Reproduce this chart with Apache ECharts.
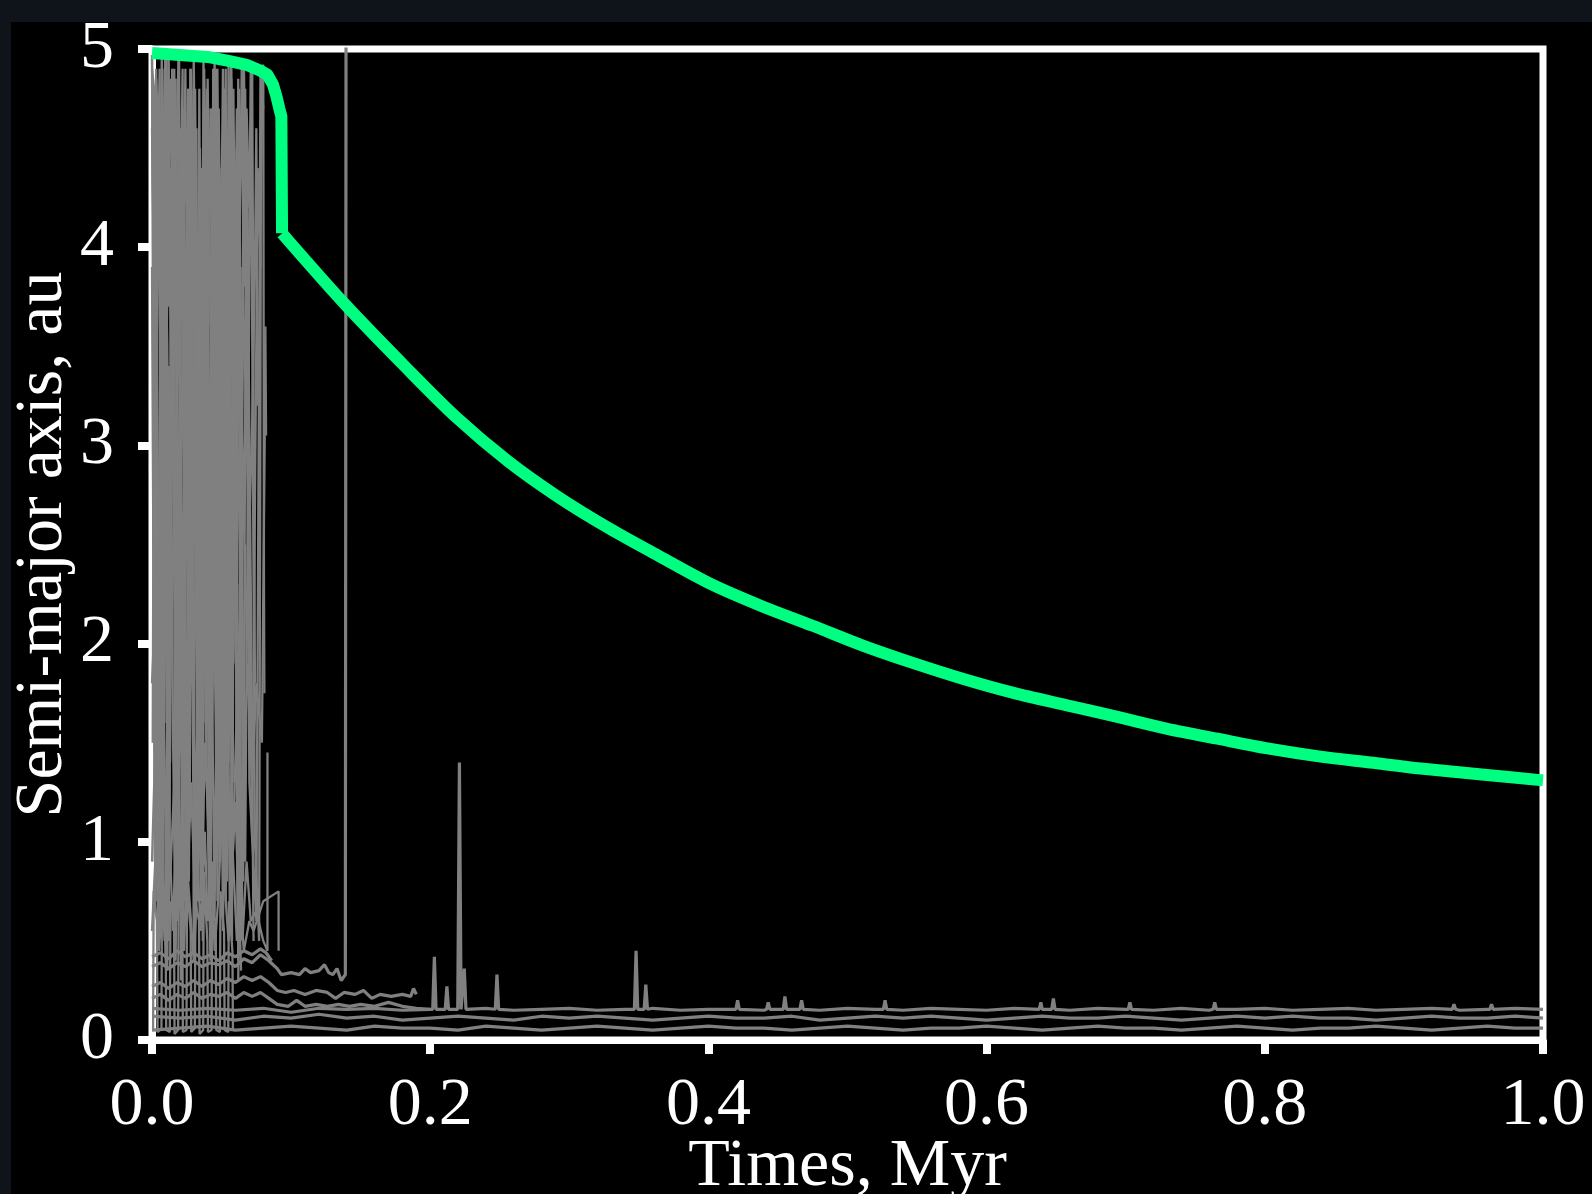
<!DOCTYPE html>
<html>
<head>
<meta charset="utf-8">
<title>Semi-major axis vs time</title>
<script src="https://cdn.jsdelivr.net/npm/echarts@6/dist/echarts.min.js"></script>
<style>
html, body { margin: 0; padding: 0; width: 1592px; height: 1194px; overflow: hidden; background: #0e1419; }
#container { position: absolute; left: 11px; top: 22px; width: 1581px; height: 1172px; background: #000; }
</style>
</head>
<body>
<div id="container"></div>
<script>
var FONT = "'Liberation Serif', 'Times New Roman', serif";

// ---- data (time in Myr, semi-major axis in au) ----

// the surviving planet (green)
var planetHead = [[0, 4.98], [0.02, 4.97], [0.04, 4.96], [0.055, 4.94], [0.068, 4.92], [0.078, 4.89],
    [0.083, 4.87], [0.087, 4.82], [0.0895, 4.76], [0.0915, 4.70], [0.093, 4.66], [0.0935, 4.07]];
var planetTail = [[0.0935, 4.07], [0.139, 3.71], [0.183, 3.39], [0.219, 3.14], [0.256, 2.92], [0.292, 2.74],
    [0.329, 2.58], [0.365, 2.44], [0.402, 2.30], [0.438, 2.19], [0.475, 2.09], [0.511, 1.99], [0.548, 1.90],
    [0.584, 1.82], [0.620, 1.75], [0.657, 1.69], [0.694, 1.63], [0.730, 1.57], [0.766, 1.52], [0.803, 1.47],
    [0.840, 1.43], [0.876, 1.40], [0.912, 1.37], [0.956, 1.34], [1.0, 1.31]];

// scattered bodies in the first ~0.09 Myr (grey)
var chaos1 = [[0.000, 4.90], [0.003, 4.70], [0.004, 1.20], [0.006, 3.80], [0.007, 4.95], [0.010, 2.40], [0.012, 0.50],
    [0.014, 3.30], [0.017, 4.60], [0.019, 1.80], [0.021, 0.30], [0.024, 2.90], [0.026, 4.80], [0.029, 3.60],
    [0.031, 0.90], [0.034, 2.20], [0.036, 4.40], [0.039, 1.50], [0.042, 0.40], [0.044, 3.10], [0.047, 4.90],
    [0.050, 2.60], [0.053, 0.70], [0.056, 3.90], [0.059, 4.50], [0.061, 1.10], [0.064, 0.35]];
var chaos2 = [[0.000, 4.95], [0.002, 3.10], [0.005, 4.40], [0.008, 0.80], [0.009, 2.70], [0.013, 4.85], [0.015, 4.10],
    [0.018, 0.60], [0.020, 1.90], [0.023, 4.30], [0.025, 3.20], [0.028, 4.90], [0.030, 0.45], [0.033, 1.70],
    [0.035, 3.60], [0.038, 4.70], [0.040, 2.10], [0.043, 1.30], [0.046, 4.20], [0.048, 3.40], [0.051, 0.55],
    [0.054, 2.50], [0.057, 4.85], [0.060, 3.00], [0.062, 0.40], [0.066, 1.60], [0.068, 4.60], [0.071, 2.30],
    [0.073, 0.50]];
var chaos3 = [[0.001, 4.80], [0.004, 2.20], [0.006, 0.60], [0.009, 4.30], [0.011, 3.50], [0.013, 1.40], [0.016, 4.90],
    [0.018, 2.80], [0.022, 1.00], [0.024, 3.70], [0.027, 1.90], [0.029, 4.50], [0.032, 2.70], [0.035, 0.70],
    [0.037, 4.95], [0.041, 3.20], [0.043, 1.90], [0.045, 0.60], [0.049, 4.10], [0.052, 4.80], [0.055, 1.40],
    [0.058, 2.90], [0.061, 4.70], [0.063, 3.30], [0.067, 0.90], [0.070, 3.80], [0.072, 4.90], [0.074, 1.80]];
var chaos4 = [[0.000, 3.90], [0.002, 0.90], [0.005, 2.60], [0.007, 4.50], [0.010, 3.90], [0.012, 4.95], [0.015, 1.60],
    [0.017, 0.40], [0.020, 3.40], [0.022, 4.70], [0.025, 1.20], [0.027, 2.40], [0.030, 4.60], [0.032, 3.90],
    [0.034, 1.00], [0.038, 2.50], [0.040, 4.85], [0.042, 3.70], [0.044, 2.60], [0.047, 0.90], [0.050, 3.50],
    [0.052, 1.60], [0.054, 4.40], [0.057, 4.95], [0.060, 2.00], [0.063, 1.20], [0.065, 3.90], [0.069, 2.80],
    [0.072, 1.00], [0.076, 4.40], [0.078, 3.90]];
var chaos5 = [[0.001, 2.50], [0.003, 4.85], [0.006, 4.20], [0.008, 2.00], [0.011, 0.35], [0.013, 2.90], [0.016, 3.80],
    [0.019, 4.95], [0.021, 2.50], [0.023, 0.70], [0.026, 1.50], [0.028, 3.90], [0.031, 4.80], [0.033, 2.90],
    [0.036, 1.10], [0.039, 3.60], [0.041, 0.70], [0.044, 2.00], [0.046, 3.00], [0.048, 4.60], [0.051, 1.80],
    [0.053, 3.20], [0.056, 0.60], [0.058, 1.90], [0.062, 4.30], [0.064, 2.50], [0.067, 4.80], [0.070, 1.30],
    [0.075, 0.60], [0.078, 4.90], [0.080, 4.70]];
var chaos6 = [[0.000, 1.80], [0.003, 2.30], [0.005, 1.70], [0.007, 3.00], [0.010, 2.60], [0.012, 3.40], [0.014, 2.10],
    [0.017, 2.90], [0.019, 3.70], [0.022, 2.40], [0.024, 1.30], [0.027, 2.00], [0.030, 1.70], [0.032, 2.60],
    [0.035, 2.20], [0.037, 3.10], [0.040, 1.60], [0.043, 2.90], [0.046, 2.10], [0.049, 1.40], [0.052, 2.30],
    [0.055, 1.20], [0.058, 0.90], [0.061, 1.70], [0.064, 2.30], [0.066, 1.40], [0.069, 1.90], [0.072, 1.30],
    [0.075, 1.80], [0.079, 1.50], [0.081, 3.00], [0.0815, 3.60], [0.082, 3.05]];
var chaos7 = [[0.000, 0.90], [0.002, 1.40], [0.004, 0.70], [0.006, 1.10], [0.009, 0.50], [0.011, 1.60], [0.013, 0.80],
    [0.016, 1.30], [0.018, 0.60], [0.021, 1.00], [0.023, 1.80], [0.026, 0.90], [0.028, 1.30], [0.031, 0.70],
    [0.033, 1.20], [0.036, 0.80], [0.038, 1.50], [0.041, 1.00], [0.044, 0.60], [0.046, 1.20], [0.049, 1.80],
    [0.052, 1.10], [0.054, 1.40], [0.057, 0.80], [0.060, 1.20], [0.062, 0.70], [0.065, 0.50], [0.068, 0.90],
    [0.071, 0.60], [0.075, 0.65], [0.080, 0.50], [0.083, 0.45], [0.083, 1.45]];
var chaos8 = [[0.000, 0.55], [0.003, 1.00], [0.005, 0.45], [0.008, 0.80], [0.010, 0.40], [0.013, 0.95], [0.015, 0.55],
    [0.018, 1.20], [0.020, 0.70], [0.023, 0.45], [0.025, 0.90], [0.028, 0.60], [0.030, 0.40], [0.033, 0.85],
    [0.035, 0.55], [0.038, 1.05], [0.040, 0.60], [0.043, 0.90], [0.045, 0.45], [0.048, 0.75], [0.050, 1.15],
    [0.053, 0.70], [0.055, 0.50], [0.058, 0.95], [0.061, 0.50], [0.063, 0.75], [0.066, 0.45], [0.070, 0.60],
    [0.073, 0.55], [0.080, 0.70], [0.091, 0.75], [0.091, 0.45]];
var chaos9 = [[0.062, 0.30], [0.064, 2.00], [0.066, 4.95], [0.069, 3.40], [0.071, 4.90], [0.074, 1.00],
    [0.077, 0.50], [0.0785, 4.90], [0.080, 4.92], [0.0805, 2.30], [0.0808, 1.75]];
var chaos10 = [[0.000, 4.97], [0.0015, 2.1], [0.003, 4.6], [0.0045, 0.8], [0.006, 3.4], [0.0075, 4.9], [0.009, 1.6],
    [0.0105, 3.9], [0.012, 0.6], [0.0135, 2.8], [0.015, 4.7], [0.0165, 1.3], [0.018, 3.6], [0.0195, 4.95],
    [0.021, 2.2], [0.0225, 0.5], [0.024, 3.1], [0.0255, 4.4], [0.027, 1.1], [0.0285, 2.6], [0.030, 4.8],
    [0.0315, 3.3], [0.033, 0.7], [0.0345, 4.1], [0.036, 2.4], [0.0375, 4.9], [0.039, 1.7], [0.0405, 3.8],
    [0.042, 0.9], [0.0435, 4.5], [0.045, 2.9], [0.0465, 1.2], [0.048, 4.7], [0.0495, 3.5], [0.051, 1.5],
    [0.0525, 4.3], [0.054, 0.8], [0.0555, 2.7], [0.057, 4.6], [0.0585, 1.9], [0.060, 3.7], [0.0615, 0.6],
    [0.063, 2.3]];
var chaos11 = [[0.0005, 1.5], [0.002, 4.8], [0.0035, 3.0], [0.005, 0.5], [0.0065, 2.4], [0.008, 4.4], [0.0095, 4.95],
    [0.011, 2.0], [0.0125, 0.9], [0.014, 4.2], [0.0155, 3.1], [0.017, 4.85], [0.0185, 1.4], [0.020, 2.9],
    [0.0215, 4.5], [0.023, 3.8], [0.0245, 0.6], [0.026, 2.1], [0.0275, 4.9], [0.029, 1.8], [0.0305, 3.5],
    [0.032, 4.6], [0.0335, 1.0], [0.035, 2.7], [0.0365, 0.5], [0.038, 3.9], [0.0395, 4.8], [0.041, 2.5],
    [0.0425, 1.4], [0.044, 4.9], [0.0455, 3.6], [0.047, 0.7], [0.0485, 2.2], [0.050, 4.4], [0.0515, 2.9],
    [0.053, 4.9], [0.0545, 1.1], [0.056, 3.3], [0.0575, 0.5], [0.059, 4.5], [0.0605, 2.6], [0.062, 4.85],
    [0.0635, 1.5], [0.065, 0.6]];
var chaos12 = [[0.001, 3.6], [0.0025, 0.7], [0.004, 4.3], [0.0055, 4.9], [0.007, 1.9], [0.0085, 3.2], [0.010, 4.7],
    [0.0115, 0.9], [0.013, 2.5], [0.0145, 4.9], [0.016, 3.4], [0.0175, 1.0], [0.019, 2.3], [0.0205, 4.1],
    [0.022, 4.9], [0.0235, 1.6], [0.025, 3.9], [0.0265, 0.8], [0.028, 2.2], [0.0295, 4.6], [0.031, 3.9],
    [0.0325, 1.3], [0.034, 4.8], [0.0355, 2.8], [0.037, 1.6], [0.0385, 4.3], [0.040, 3.2], [0.0415, 0.6],
    [0.043, 4.7], [0.0445, 1.9], [0.046, 4.9], [0.0475, 2.6], [0.049, 0.9], [0.0505, 3.7], [0.052, 4.6],
    [0.0535, 2.1], [0.055, 4.95], [0.0565, 3.4], [0.058, 1.3], [0.0595, 4.2], [0.061, 2.0], [0.0625, 4.8],
    [0.064, 3.1], [0.0655, 0.8], [0.067, 2.5]];
var chaos13 = [[0.028, 2.6], [0.030, 3.3], [0.0315, 2.2], [0.033, 3.0], [0.035, 1.9], [0.0365, 2.8], [0.038, 3.5],
    [0.0395, 2.4], [0.041, 3.1], [0.043, 2.0], [0.0445, 2.7], [0.046, 3.4], [0.048, 2.3], [0.0495, 2.9],
    [0.051, 1.7], [0.053, 2.5], [0.0545, 3.2], [0.056, 2.1], [0.058, 2.8], [0.0595, 3.6], [0.061, 2.5],
    [0.063, 3.0], [0.0645, 2.2], [0.066, 2.9], [0.068, 3.4], [0.070, 2.6], [0.072, 3.1], [0.074, 3.9],
    [0.075, 4.6], [0.076, 3.2]];
var chaos15 = [[0, 4.6], [0.0015, 3.8], [0.003, 4.9], [0.0045, 4.2], [0.006, 3.5], [0.0075, 4.7], [0.009, 3.9],
    [0.0105, 4.95], [0.012, 3.7], [0.0135, 4.4], [0.015, 3.2], [0.0165, 4.8], [0.018, 4.1], [0.0195, 3.5],
    [0.021, 4.6], [0.0225, 3.9], [0.024, 4.9], [0.0255, 3.4], [0.027, 4.3], [0.0285, 3.8], [0.030, 4.95],
    [0.0315, 4.0], [0.033, 3.3], [0.0345, 4.5], [0.036, 3.7], [0.0375, 4.85], [0.039, 4.2], [0.0405, 3.6],
    [0.042, 4.7], [0.0435, 3.9], [0.045, 4.95], [0.0465, 3.5], [0.048, 4.4], [0.0495, 3.8], [0.051, 4.9],
    [0.0525, 4.1], [0.054, 3.4], [0.0555, 4.6], [0.057, 3.9], [0.0585, 4.8], [0.060, 3.6], [0.0615, 4.5],
    [0.063, 4.0], [0.0645, 4.9], [0.066, 3.8], [0.068, 4.7], [0.070, 4.2], [0.072, 4.9]];
var chaos16 = [[0.0008, 0.05], [0.0012, 0.75], [0.0035, 0.60], [0.004, 0.04], [0.0068, 0.06], [0.0072, 0.85],
    [0.0098, 0.55], [0.0102, 0.05], [0.0128, 0.04], [0.0133, 0.70], [0.0158, 0.65], [0.0162, 0.03],
    [0.0188, 0.05], [0.0192, 0.90], [0.0218, 0.60], [0.0222, 0.04], [0.0248, 0.05], [0.0252, 0.80],
    [0.0278, 0.55], [0.0282, 0.04], [0.0308, 0.06], [0.0312, 0.70], [0.0338, 0.60], [0.0342, 0.03],
    [0.0368, 0.05], [0.0372, 0.85], [0.0398, 0.50], [0.0402, 0.04], [0.0428, 0.05], [0.0432, 0.65],
    [0.0458, 0.60], [0.0462, 0.05], [0.0488, 0.04], [0.0492, 0.75], [0.0518, 0.55], [0.0522, 0.05],
    [0.0548, 0.04], [0.0552, 0.70], [0.0578, 0.45], [0.0582, 0.05]];

// bodies that settled close in (grey, just above zero)
var inner1 = [[0, 0.42], [0.006, 0.44], [0.012, 0.41], [0.018, 0.45], [0.024, 0.42], [0.030, 0.44], [0.036, 0.41],
    [0.042, 0.43], [0.048, 0.40], [0.054, 0.44], [0.060, 0.42], [0.066, 0.45], [0.072, 0.43], [0.078, 0.46],
    [0.082, 0.44], [0.086, 0.40]];
var inner2 = [[0, 0.37], [0.006, 0.39], [0.012, 0.36], [0.018, 0.39], [0.024, 0.37], [0.030, 0.40], [0.036, 0.37],
    [0.042, 0.39], [0.048, 0.38], [0.054, 0.40], [0.060, 0.37], [0.066, 0.41], [0.072, 0.39], [0.078, 0.43],
    [0.084, 0.40], [0.090, 0.36], [0.093, 0.33], [0.100, 0.34], [0.106, 0.33], [0.110, 0.36], [0.114, 0.34],
    [0.120, 0.35], [0.124, 0.38], [0.127, 0.34], [0.130, 0.33], [0.133, 0.36], [0.136, 0.30], [0.139, 0.33],
    [0.1395, 5.2]];
var inner3 = [[0, 0.27], [0.006, 0.29], [0.012, 0.26], [0.018, 0.29], [0.024, 0.27], [0.030, 0.30], [0.036, 0.27],
    [0.042, 0.30], [0.048, 0.28], [0.054, 0.31], [0.060, 0.29], [0.066, 0.32], [0.072, 0.30], [0.078, 0.32],
    [0.084, 0.29], [0.090, 0.25], [0.096, 0.24], [0.102, 0.25], [0.110, 0.23], [0.118, 0.25], [0.126, 0.24],
    [0.132, 0.21], [0.138, 0.24], [0.146, 0.23], [0.152, 0.25], [0.158, 0.21], [0.164, 0.23], [0.172, 0.22],
    [0.180, 0.23], [0.186, 0.22], [0.188, 0.26], [0.190, 0.23]];
var inner4 = [[0, 0.21], [0.006, 0.23], [0.012, 0.20], [0.018, 0.23], [0.024, 0.21], [0.030, 0.24], [0.036, 0.21],
    [0.042, 0.23], [0.048, 0.22], [0.054, 0.24], [0.060, 0.21], [0.066, 0.24], [0.072, 0.22], [0.078, 0.24],
    [0.084, 0.21], [0.090, 0.18], [0.098, 0.17], [0.104, 0.20], [0.110, 0.17], [0.118, 0.18], [0.126, 0.17],
    [0.134, 0.18], [0.142, 0.17], [0.150, 0.18], [0.160, 0.17], [0.170, 0.19], [0.180, 0.17], [0.190, 0.16],
    [0.200, 0.155]];

// three long-lived inner orbits sampled on a common time grid
var lowTimes = [0, 0.02, 0.04, 0.06, 0.08, 0.10, 0.12, 0.14, 0.16, 0.18, 0.20, 0.22, 0.24, 0.26, 0.28, 0.30,
    0.32, 0.34, 0.36, 0.38, 0.40, 0.42, 0.44, 0.46, 0.48, 0.50, 0.52, 0.54, 0.56, 0.58, 0.60, 0.62, 0.64,
    0.66, 0.68, 0.70, 0.72, 0.74, 0.76, 0.78, 0.80, 0.82, 0.84, 0.86, 0.88, 0.90, 0.92, 0.94, 0.96, 0.98, 1.0];
var low1 = [0.16, 0.15, 0.16, 0.15, 0.16, 0.14, 0.16, 0.155, 0.16, 0.15, 0.155, 0.15, 0.16, 0.15, 0.155, 0.16,
    0.15, 0.155, 0.16, 0.15, 0.155, 0.16, 0.15, 0.155, 0.15, 0.16, 0.155, 0.15, 0.16, 0.155, 0.15, 0.16,
    0.155, 0.15, 0.16, 0.155, 0.15, 0.16, 0.15, 0.155, 0.16, 0.15, 0.155, 0.16, 0.15, 0.155, 0.16, 0.15,
    0.155, 0.16, 0.155];
var low2 = [0.12, 0.11, 0.12, 0.10, 0.12, 0.11, 0.13, 0.11, 0.12, 0.10, 0.11, 0.12, 0.11, 0.10, 0.12, 0.11,
    0.12, 0.11, 0.10, 0.11, 0.12, 0.11, 0.11, 0.12, 0.10, 0.11, 0.12, 0.11, 0.12, 0.11, 0.10, 0.11, 0.12,
    0.11, 0.11, 0.12, 0.11, 0.10, 0.11, 0.12, 0.11, 0.12, 0.11, 0.11, 0.10, 0.11, 0.12, 0.11, 0.11, 0.12, 0.11];
var low3 = [0.05, 0.06, 0.07, 0.05, 0.06, 0.07, 0.06, 0.05, 0.07, 0.06, 0.06, 0.05, 0.07, 0.06, 0.05, 0.06,
    0.07, 0.06, 0.05, 0.06, 0.07, 0.06, 0.06, 0.05, 0.06, 0.07, 0.06, 0.05, 0.06, 0.06, 0.07, 0.06, 0.05,
    0.06, 0.07, 0.06, 0.06, 0.05, 0.06, 0.07, 0.06, 0.05, 0.06, 0.06, 0.07, 0.06, 0.05, 0.06, 0.07, 0.06, 0.06];
// short excursions of the outermost settled orbit
var spikeTimes = [0.203, 0.212, 0.221, 0.2245, 0.248, 0.348, 0.355, 0.421, 0.443, 0.455, 0.467, 0.527,
    0.639, 0.648, 0.703, 0.764, 0.936, 0.963];
var spikePeaks = [0.42, 0.27, 1.40, 0.36, 0.33, 0.45, 0.28, 0.20, 0.19, 0.22, 0.20, 0.20,
    0.19, 0.21, 0.19, 0.19, 0.18, 0.18];

// ---- build series ----

function onLoad()
{
    var dom = document.getElementById("container");
    var myChart = echarts.init(dom);
    myChart.setOption(getOption(), true);
}

function pairs(times, values) {
    var out = [];
    for (var i = 0; i < times.length; i++) {
        out.push([times[i], values[i]]);
    }
    return out;
}

function withSpikes(times, values) {
    var pts = pairs(times, values);
    for (var i = 0; i < spikeTimes.length; i++) {
        var t = spikeTimes[i];
        pts.push([t - 0.0012, 0.155], [t, spikePeaks[i]], [t + 0.0012, 0.155]);
    }
    pts.sort(function (a, b) { return a[0] - b[0]; });
    return pts;
}

function greyLine(data, width) {
    return {
        type: 'line',
        data: data,
        symbol: 'none',
        lineStyle: { color: '#808080', width: width },
        silent: true
    };
}

function getOption()
{
    var chaos = [chaos1, chaos2, chaos3, chaos4, chaos5, chaos6, chaos7, chaos8, chaos9, chaos10,
        chaos11, chaos12, chaos13, chaos15, chaos16];
    var settled = [inner1, inner2, inner3, inner4,
        withSpikes(lowTimes, low1), pairs(lowTimes, low2), pairs(lowTimes, low3)];
    var series = [];
    chaos.forEach(function (d) { series.push(greyLine(d, 2.3)); });
    settled.forEach(function (d) { series.push(greyLine(d, 3.2)); });

    series.push({
        type: 'line', data: planetHead, symbol: 'none',
        lineStyle: { color: '#00ff80', width: 12, join: 'round' }
    });
    series.push({
        type: 'line', data: planetTail, symbol: 'none', smooth: 0.3,
        lineStyle: { color: '#00ff80', width: 12, join: 'round' }
    });

    var tickStyle = { color: '#fff', width: 8 };
    return {
        backgroundColor: '#000',
        animation: false,
        grid: {
            left: 141, top: 27, right: 49, bottom: 154,
            outerBoundsMode: 'none', containLabel: false,
            show: true, borderColor: '#fff', borderWidth: 7
        },
        xAxis: {
            type: 'value', min: 0, max: 1, interval: 0.2,
            name: 'Times, Myr', nameLocation: 'middle', nameGap: 93, nameMoveOverlap: false,
            nameTextStyle: { color: '#fff', fontSize: 68, fontFamily: FONT },
            axisLine: { show: true, lineStyle: { color: '#fff', width: 7 } },
            axisTick: { show: true, length: 14, lineStyle: tickStyle },
            axisLabel: {
                color: '#fff', fontSize: 68, fontFamily: FONT, margin: 32,
                formatter: function (v) { return v.toFixed(1); }
            },
            splitLine: { show: false }
        },
        yAxis: {
            type: 'value', min: 0, max: 5, interval: 1,
            name: 'Semi-major axis, au', nameLocation: 'middle', nameGap: 75, nameMoveOverlap: false,
            nameTextStyle: { color: '#fff', fontSize: 68, fontFamily: FONT },
            axisLine: { show: true, lineStyle: { color: '#fff', width: 7 } },
            axisTick: { show: true, length: 14, lineStyle: tickStyle },
            axisLabel: { color: '#fff', fontSize: 68, fontFamily: FONT, margin: 38 },
            splitLine: { show: false }
        },
        series: series
    };
}

onLoad();
</script>
</body>
</html>
